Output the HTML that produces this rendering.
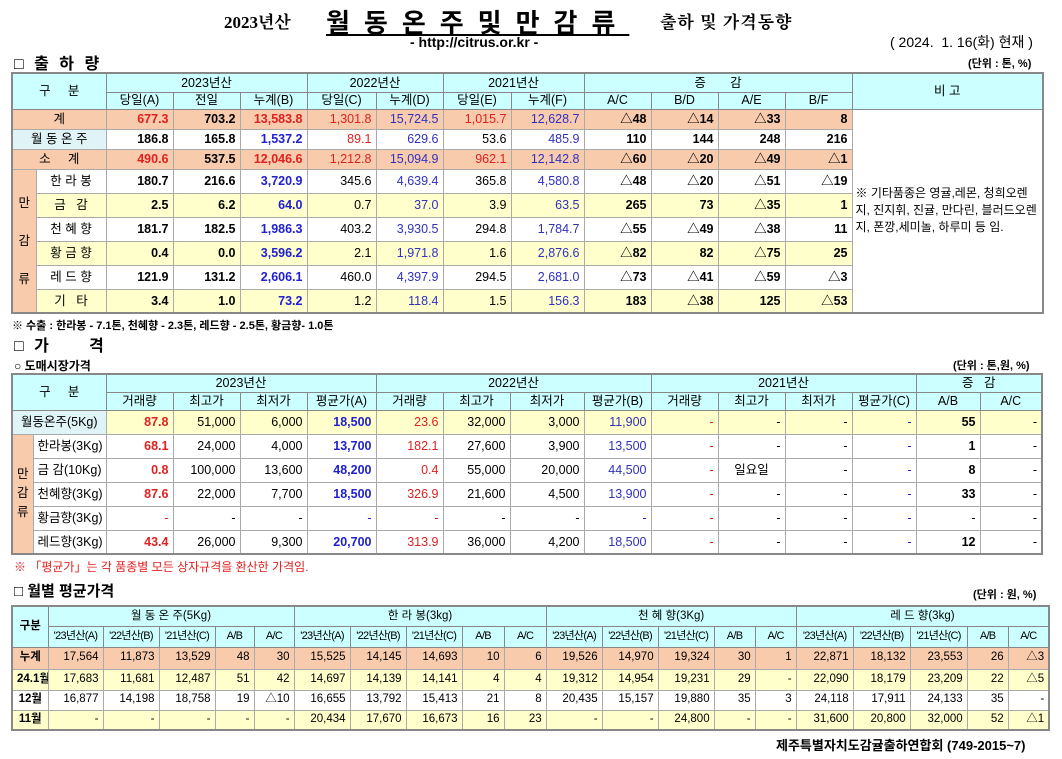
<!DOCTYPE html>
<html><head><meta charset="utf-8"><style>
body{margin:0;width:1062px;height:759px;background:#fff;position:relative;font-family:"Liberation Sans","Noto Sans CJK KR",sans-serif;color:#000;overflow:hidden}
.a{position:absolute;white-space:nowrap}
table{position:absolute;border-collapse:collapse;table-layout:fixed;font-size:12.5px}
td{border:1px solid #aaa;padding:0 4px;text-align:right;overflow:hidden;white-space:nowrap;line-height:1}
.h td{background:#ccffff;text-align:center;border-color:#888}
.c{text-align:center!important}
.p td{background:#f8cbad}
.y td{background:#ffffcc}
.w td{background:#fff}
.pk{background:#f8cbad!important;text-align:center}
.r{color:#e02020}.b{color:#2020d0}.bl{color:#3030c0}.B{font-weight:bold}
.t1{border:2px solid #888}
.hs td{font-size:11px;letter-spacing:-0.7px;padding:0 1px}
</style></head><body>
<div class="a" style="left:224px;top:8px;font-size:17px;font-weight:bold;font-family:'Liberation Serif','Noto Serif CJK SC',serif">2023년산</div>
<div class="a" style="left:326px;top:3px;font-size:26px;font-weight:bold;letter-spacing:14px;text-decoration:underline">월동온주및만감류</div>
<div class="a" style="left:660px;top:8px;font-size:17px;font-weight:bold;letter-spacing:1px;font-family:'Noto Serif CJK SC',serif">출하 및 가격동향</div>
<div class="a" style="left:410px;top:34px;font-size:14px;font-weight:bold">- http://citrus.or.kr -</div>
<div class="a" style="left:890px;top:32px;font-size:14px">( 2024.&nbsp; 1. 16(화) 현재 )</div>
<div class="a" style="left:14px;top:50px;font-size:16px;font-weight:bold;letter-spacing:3px">□ 출 하 량</div>
<div class="a" style="left:968px;top:55px;font-size:11px;font-weight:bold">(단위 : 톤, %)</div>

<table class="t1" style="left:11px;top:72px;width:1032px">
<colgroup><col style="width:24px"><col style="width:70px"><col style="width:67px"><col style="width:67px"><col style="width:67px"><col style="width:69px"><col style="width:67px"><col style="width:68px"><col style="width:73px"><col style="width:67px"><col style="width:67px"><col style="width:67px"><col style="width:67px"><col style="width:191px"></colgroup>
<tr class="h" style="height:19px"><td colspan="2" rowspan="2">구 &nbsp; &nbsp; 분</td><td colspan="3">2023년산</td><td colspan="2">2022년산</td><td colspan="2">2021년산</td><td colspan="4">증 &nbsp; &nbsp; &nbsp; 감</td><td rowspan="2">비 고</td></tr>
<tr class="h" style="height:17px"><td>당일(A)</td><td>전일</td><td>누계(B)</td><td>당일(C)</td><td>누계(D)</td><td>당일(E)</td><td>누계(F)</td><td>A/C</td><td>B/D</td><td>A/E</td><td>B/F</td></tr>
<tr class="p" style="height:20px"><td colspan="2" class="c">계</td><td class="r B">677.3</td><td class="B">703.2</td><td class="r B">13,583.8</td><td class="r">1,301.8</td><td class="bl">15,724.5</td><td class="r">1,015.7</td><td class="bl">12,628.7</td><td class="B">△48</td><td class="B">△14</td><td class="B">△33</td><td class="B">8</td><td rowspan="9" style="background:#fff;text-align:left;white-space:normal;font-size:12px;line-height:17px;padding:0 3px">※ 기타품종은 영귤,레몬, 청희오렌지, 진지휘, 진귤, 만다린, 블러드오렌지, 폰깡,세미놀, 하루미 등 임.</td></tr>
<tr class="w" style="height:20px"><td colspan="2" class="c" style="background:#e0f4f8">월 동 온 주</td><td class="B">186.8</td><td class="B">165.8</td><td class="b B">1,537.2</td><td class="r">89.1</td><td class="bl">629.6</td><td>53.6</td><td class="bl">485.9</td><td class="B">110</td><td class="B">144</td><td class="B">248</td><td class="B">216</td></tr>
<tr class="p" style="height:20px"><td colspan="2" class="c">소 &nbsp; &nbsp; 계</td><td class="r B">490.6</td><td class="B">537.5</td><td class="r B">12,046.6</td><td class="r">1,212.8</td><td class="bl">15,094.9</td><td class="r">962.1</td><td class="bl">12,142.8</td><td class="B">△60</td><td class="B">△20</td><td class="B">△49</td><td class="B">△1</td></tr>
<tr class="w" style="height:24px"><td rowspan="6" class="pk" style="white-space:normal;line-height:38px;padding:0">만<br>감<br>류</td><td class="c">한 라 봉</td><td class="B">180.7</td><td class="B">216.6</td><td class="b B">3,720.9</td><td>345.6</td><td class="bl">4,639.4</td><td>365.8</td><td class="bl">4,580.8</td><td class="B">△48</td><td class="B">△20</td><td class="B">△51</td><td class="B">△19</td></tr>
<tr class="y" style="height:24px"><td class="c">금 &nbsp; 감</td><td class="B">2.5</td><td class="B">6.2</td><td class="b B">64.0</td><td>0.7</td><td class="bl">37.0</td><td>3.9</td><td class="bl">63.5</td><td class="B">265</td><td class="B">73</td><td class="B">△35</td><td class="B">1</td></tr>
<tr class="w" style="height:24px"><td class="c">천 혜 향</td><td class="B">181.7</td><td class="B">182.5</td><td class="b B">1,986.3</td><td>403.2</td><td class="bl">3,930.5</td><td>294.8</td><td class="bl">1,784.7</td><td class="B">△55</td><td class="B">△49</td><td class="B">△38</td><td class="B">11</td></tr>
<tr class="y" style="height:24px"><td class="c">황 금 향</td><td class="B">0.4</td><td class="B">0.0</td><td class="b B">3,596.2</td><td>2.1</td><td class="bl">1,971.8</td><td>1.6</td><td class="bl">2,876.6</td><td class="B">△82</td><td class="B">82</td><td class="B">△75</td><td class="B">25</td></tr>
<tr class="w" style="height:24px"><td class="c">레 드 향</td><td class="B">121.9</td><td class="B">131.2</td><td class="b B">2,606.1</td><td>460.0</td><td class="bl">4,397.9</td><td>294.5</td><td class="bl">2,681.0</td><td class="B">△73</td><td class="B">△41</td><td class="B">△59</td><td class="B">△3</td></tr>
<tr class="y" style="height:24px"><td class="c">기 &nbsp; 타</td><td class="B">3.4</td><td class="B">1.0</td><td class="b B">73.2</td><td>1.2</td><td class="bl">118.4</td><td>1.5</td><td class="bl">156.3</td><td class="B">183</td><td class="B">△38</td><td class="B">125</td><td class="B">△53</td></tr>
</table>
<div class="a" style="left:12px;top:317px;font-size:11px;font-weight:bold">※ 수출 : 한라봉 - 7.1톤, 천혜향 - 2.3톤, 레드향 - 2.5톤, 황금향- 1.0톤</div>

<div class="a" style="left:14px;top:332px;font-size:16px;font-weight:bold;letter-spacing:3px">□ 가 &nbsp; &nbsp; 격</div>
<div class="a" style="left:14px;top:357px;font-size:12px;font-weight:bold">○ 도매시장가격</div>
<div class="a" style="left:953px;top:357px;font-size:11px;font-weight:bold">(단위 : 톤,원, %)</div>

<table class="t1" style="left:11px;top:373px;width:1032px">
<colgroup><col style="width:21px"><col style="width:73px"><col style="width:67px"><col style="width:67px"><col style="width:67px"><col style="width:69px"><col style="width:67px"><col style="width:67px"><col style="width:74px"><col style="width:67px"><col style="width:67px"><col style="width:67px"><col style="width:67px"><col style="width:64px"><col style="width:64px"></colgroup>
<tr class="h" style="height:18px"><td colspan="2" rowspan="2">구 &nbsp; &nbsp; 분</td><td colspan="4">2023년산</td><td colspan="4">2022년산</td><td colspan="4">2021년산</td><td colspan="2">증 &nbsp; 감</td></tr>
<tr class="h" style="height:18px"><td>거래량</td><td>최고가</td><td>최저가</td><td>평균가(A)</td><td>거래량</td><td>최고가</td><td>최저가</td><td>평균가(B)</td><td>거래량</td><td>최고가</td><td>최저가</td><td>평균가(C)</td><td>A/B</td><td>A/C</td></tr>
<tr class="y" style="height:24px"><td colspan="2" class="c" style="background:#e0f4f8">월동온주(5Kg)</td><td class="r B">87.8</td><td>51,000</td><td>6,000</td><td class="b B">18,500</td><td class="r">23.6</td><td>32,000</td><td>3,000</td><td class="bl">11,900</td><td class="r">-</td><td>-</td><td>-</td><td class="b">-</td><td class="B">55</td><td>-</td></tr>
<tr class="w" style="height:24px"><td rowspan="5" class="pk" style="white-space:normal;line-height:19px;padding:0">만<br>감<br>류</td><td class="c">한라봉(3Kg)</td><td class="r B">68.1</td><td>24,000</td><td>4,000</td><td class="b B">13,700</td><td class="r">182.1</td><td>27,600</td><td>3,900</td><td class="bl">13,500</td><td class="r">-</td><td>-</td><td>-</td><td class="b">-</td><td class="B">1</td><td>-</td></tr>
<tr class="w" style="height:24px"><td class="c">금 감(10Kg)</td><td class="r B">0.8</td><td>100,000</td><td>13,600</td><td class="b B">48,200</td><td class="r">0.4</td><td>55,000</td><td>20,000</td><td class="bl">44,500</td><td class="r">-</td><td class="c">일요일</td><td>-</td><td class="b">-</td><td class="B">8</td><td>-</td></tr>
<tr class="w" style="height:24px"><td class="c">천혜향(3Kg)</td><td class="r B">87.6</td><td>22,000</td><td>7,700</td><td class="b B">18,500</td><td class="r">326.9</td><td>21,600</td><td>4,500</td><td class="bl">13,900</td><td class="r">-</td><td>-</td><td>-</td><td class="b">-</td><td class="B">33</td><td>-</td></tr>
<tr class="w" style="height:24px"><td class="c">황금향(3Kg)</td><td class="r">-</td><td>-</td><td>-</td><td class="b">-</td><td class="r">-</td><td>-</td><td>-</td><td class="b">-</td><td class="r">-</td><td>-</td><td>-</td><td class="b">-</td><td>-</td><td>-</td></tr>
<tr class="w" style="height:24px"><td class="c">레드향(3Kg)</td><td class="r B">43.4</td><td>26,000</td><td>9,300</td><td class="b B">20,700</td><td class="r">313.9</td><td>36,000</td><td>4,200</td><td class="bl">18,500</td><td class="r">-</td><td>-</td><td>-</td><td class="b">-</td><td class="B">12</td><td>-</td></tr>
</table>
<div class="a" style="left:14px;top:558px;font-size:12px;color:#e02020">※ 「평균가」는 각 품종별 모든 상자규격을 환산한 가격임.</div>

<div class="a" style="left:14px;top:580px;font-size:15px;font-weight:bold">□ 월별 평균가격</div>
<div class="a" style="left:973px;top:586px;font-size:11px;font-weight:bold">(단위 : 원, %)</div>

<table class="t1" style="left:11px;top:605px;width:1038px;font-size:11.5px">
<colgroup><col style="width:36px">
<col style="width:55px"><col style="width:56px"><col style="width:56px"><col style="width:39px"><col style="width:40px">
<col style="width:56px"><col style="width:56px"><col style="width:56px"><col style="width:42px"><col style="width:42px">
<col style="width:56px"><col style="width:56px"><col style="width:56px"><col style="width:41px"><col style="width:41px">
<col style="width:57px"><col style="width:57px"><col style="width:57px"><col style="width:41px"><col style="width:41px"></colgroup>
<tr class="h" style="height:20px"><td rowspan="2" class="B">구분</td><td colspan="5">월 동 온 주(5Kg)</td><td colspan="5">한 라 봉(3kg)</td><td colspan="5">천 혜 향(3Kg)</td><td colspan="5">레 드 향(3kg)</td></tr>
<tr class="h hs" style="height:21px"><td>'23년산(A)</td><td>'22년산(B)</td><td>'21년산(C)</td><td>A/B</td><td>A/C</td><td>'23년산(A)</td><td>'22년산(B)</td><td>'21년산(C)</td><td>A/B</td><td>A/C</td><td>'23년산(A)</td><td>'22년산(B)</td><td>'21년산(C)</td><td>A/B</td><td>A/C</td><td>'23년산(A)</td><td>'22년산(B)</td><td>'21년산(C)</td><td>A/B</td><td>A/C</td></tr>
<tr class="p" style="height:22px"><td class="c B">누계</td><td>17,564</td><td>11,873</td><td>13,529</td><td>48</td><td>30</td><td>15,525</td><td>14,145</td><td>14,693</td><td>10</td><td>6</td><td>19,526</td><td>14,970</td><td>19,324</td><td>30</td><td>1</td><td>22,871</td><td>18,132</td><td>23,553</td><td>26</td><td>△3</td></tr>
<tr class="y" style="height:21px"><td class="c B">24.1월</td><td>17,683</td><td>11,681</td><td>12,487</td><td>51</td><td>42</td><td>14,697</td><td>14,139</td><td>14,141</td><td>4</td><td>4</td><td>19,312</td><td>14,954</td><td>19,231</td><td>29</td><td>-</td><td>22,090</td><td>18,179</td><td>23,209</td><td>22</td><td>△5</td></tr>
<tr class="w" style="height:20px"><td class="c B">12월</td><td>16,877</td><td>14,198</td><td>18,758</td><td>19</td><td>△10</td><td>16,655</td><td>13,792</td><td>15,413</td><td>21</td><td>8</td><td>20,435</td><td>15,157</td><td>19,880</td><td>35</td><td>3</td><td>24,118</td><td>17,911</td><td>24,133</td><td>35</td><td>-</td></tr>
<tr class="y" style="height:20px"><td class="c B">11월</td><td>-</td><td>-</td><td>-</td><td>-</td><td>-</td><td>20,434</td><td>17,670</td><td>16,673</td><td>16</td><td>23</td><td>-</td><td>-</td><td>24,800</td><td>-</td><td>-</td><td>31,600</td><td>20,800</td><td>32,000</td><td>52</td><td>△1</td></tr>
</table>
<div class="a" style="left:776px;top:735px;font-size:13px;font-weight:bold">제주특별자치도감귤출하연합회 (749-2015~7)</div>
</body></html>
